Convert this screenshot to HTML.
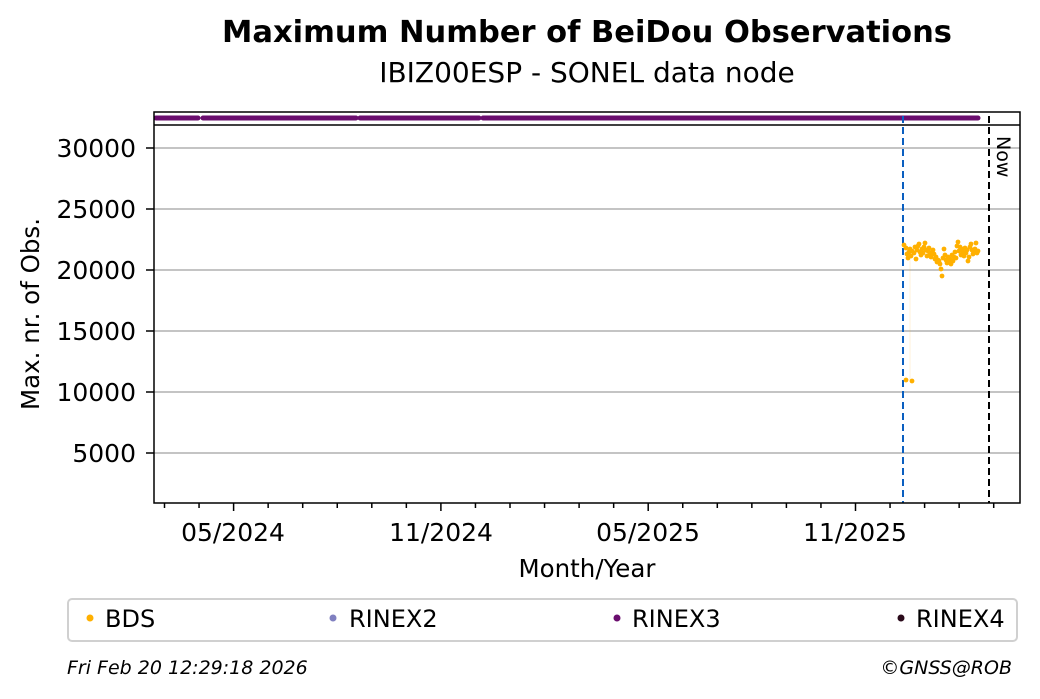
<!DOCTYPE html>
<html><head><meta charset="utf-8"><style>
body{margin:0;background:#fff;}
svg{display:block;font-family:"DejaVu Sans","Liberation Sans",sans-serif;}
</style></head><body>
<svg id="s" width="1040" height="699" viewBox="0 0 1040 699">
<text x="587" y="42" text-anchor="middle" font-size="30.5" font-weight="bold">Maximum Number of BeiDou Observations</text>
<text x="587" y="82" text-anchor="middle" font-size="28">IBIZ00ESP - SONEL data node</text>
<g stroke="#b0b0b0" stroke-width="1.5">
<line x1="154" x2="1020" y1="148" y2="148"/><line x1="154" x2="1020" y1="209" y2="209"/>
<line x1="154" x2="1020" y1="270" y2="270"/><line x1="154" x2="1020" y1="331" y2="331"/>
<line x1="154" x2="1020" y1="392" y2="392"/><line x1="154" x2="1020" y1="453" y2="453"/>
</g>
<g font-size="25" text-anchor="end">
<text x="136" y="157">30000</text><text x="136" y="218">25000</text><text x="136" y="279">20000</text>
<text x="136" y="340">15000</text><text x="136" y="401">10000</text><text x="136" y="462">5000</text>
</g>
<g stroke="#000" stroke-width="1.5">
<line x1="146" x2="154" y1="148" y2="148"/><line x1="146" x2="154" y1="209" y2="209"/>
<line x1="146" x2="154" y1="270" y2="270"/><line x1="146" x2="154" y1="331" y2="331"/>
<line x1="146" x2="154" y1="392" y2="392"/><line x1="146" x2="154" y1="453" y2="453"/>
</g>
<g id="ticks" stroke="#000" stroke-width="1.5"></g>
<g font-size="25" text-anchor="middle">
<text x="233" y="541">05/2024</text><text x="441" y="541">11/2024</text>
<text x="648" y="541">05/2025</text><text x="855" y="541">11/2025</text>
</g>
<text x="587" y="577" text-anchor="middle" font-size="24.5">Month/Year</text>
<text transform="translate(39,314) rotate(-90)" text-anchor="middle" font-size="24.5">Max. nr. of Obs.</text>
<g stroke="#6a0d6e" stroke-width="5" stroke-linecap="round">
<line x1="156" y1="118" x2="198" y2="118"/><line x1="203" y1="118" x2="356" y2="118"/>
<line x1="360" y1="118" x2="479" y2="118"/><line x1="483" y1="118" x2="978" y2="118"/>
</g>
<line x1="903" y1="116" x2="903" y2="503" stroke="#0a5fc0" stroke-width="2" stroke-dasharray="7,4"/>
<line x1="989" y1="116" x2="989" y2="503" stroke="#000" stroke-width="2" stroke-dasharray="7,4"/>
<text transform="translate(997,136) rotate(90)" font-size="19">Now</text>
<line x1="910" y1="255" x2="910" y2="380" stroke="#ffb000" stroke-width="0.5" opacity="0.3"/>
<g id="pts" fill="#ffb000"></g>
<rect x="154" y="112" width="866" height="391" fill="none" stroke="#000" stroke-width="1.5"/>
<line x1="154" x2="1020" y1="125" y2="125" stroke="#000" stroke-width="1.5"/>
<rect x="68" y="599" width="949" height="42" rx="4" fill="#fff" stroke="#d0d0d0" stroke-width="2"/>
<g font-size="24">
<circle cx="90" cy="618" r="3.5" fill="#ffb000"/><text x="105" y="627">BDS</text>
<circle cx="333" cy="618" r="3.5" fill="#8080c0"/><text x="349" y="627">RINEX2</text>
<circle cx="617" cy="618" r="3.5" fill="#6a0d6e"/><text x="632" y="627">RINEX3</text>
<circle cx="901" cy="618" r="3.5" fill="#2a0a1a"/><text x="916" y="627">RINEX4</text>
</g>
<text x="67" y="674" font-size="19" font-style="italic">Fri Feb 20 12:29:18 2026</text>
<text x="1012" y="674" font-size="19" font-style="italic" text-anchor="end">©GNSS@ROB</text>
</svg>
<script>
var ns="http://www.w3.org/2000/svg",t=document.getElementById("ticks");
for(var i=0;i<25;i++){var x=164.5+34.55*i,l=document.createElementNS(ns,"line");
l.setAttribute("x1",x);l.setAttribute("x2",x);l.setAttribute("y1",503);
l.setAttribute("y2",(i%6==2)?511:508);t.appendChild(l);}
var p=document.getElementById("pts");
var d=[[904,245],[906,248],[907,254],[908,258],[909,252],[910,249],[911,256],[912,251],[914,253],[915,247],[916,259],[917,250],[918,246],[919,244],[920,252],[921,255],[922,249],[923,253],[924,247],[925,243],[926,250],[927,256],[928,251],[929,248],[930,254],[931,257],[932,252],[933,250],[934,254],[935,259],[936,257],[937,262],[938,260],[939,261],[940,264],[941,269],[942,276],[943,258],[944,249],[945,255],[946,260],[947,263],[948,257],[949,262],[950,259],[951,264],[952,255],[953,261],[954,257],[955,252],[956,258],[957,246],[958,242],[959,251],[960,247],[961,255],[962,249],[963,252],[964,256],[965,248],[966,253],[967,250],[968,261],[969,257],[970,247],[971,244],[972,250],[973,254],[974,252],[975,249],[976,243],[977,253],[978,251],[906,380],[912,381]];
d.forEach(function(a){var c=document.createElementNS(ns,"circle");c.setAttribute("cx",a[0]);c.setAttribute("cy",a[1]);c.setAttribute("r",2.4);p.appendChild(c);});
</script>
</body></html>
